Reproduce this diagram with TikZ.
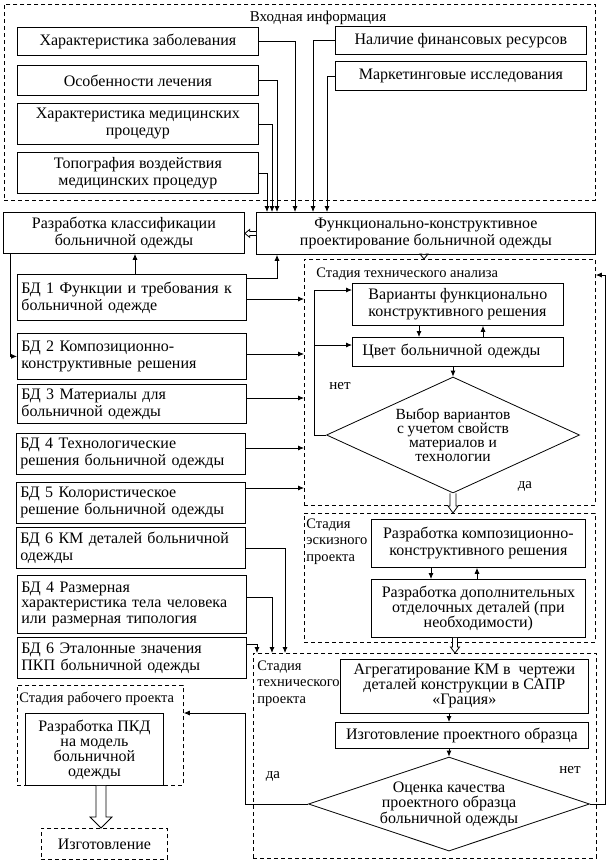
\documentclass[tikz,border=0pt]{standalone}
\usepackage{fontspec}
\setmainfont{Liberation Serif}
\usepackage{tikz}
\usetikzlibrary{arrows.meta, shapes.geometric, calc, positioning}
\tikzset{>={Latex[length=6pt,width=5pt]}}

\newcommand{\hollowdown}[5]{%
  \draw[fill=white] let \p1=(#1), \p2=(#2) in
    (\x1-#3,\y1) -- (\x1-#3,\y2+#5) -- (\x1-#4,\y2+#5) -- (\x1,\y2)
    -- (\x1+#4,\y2+#5) -- (\x1+#3,\y2+#5) -- (\x1+#3,\y1);}
\newcommand{\hollowleft}[5]{%
  \draw[fill=white] let \p1=(#1), \p2=(#2) in
    (\x1,\y1-#3) -- (\x2+#5,\y1-#3) -- (\x2+#5,\y1-#4) -- (\x2,\y1)
    -- (\x2+#5,\y1+#4) -- (\x2+#5,\y1+#3) -- (\x1,\y1+#3);}

\begin{document}
\begin{tikzpicture}[x=1pt, y=-1pt, line width=0.8pt,
  sz/.style 2 args={minimum width=#1pt, minimum height=#2pt, anchor=north west},
  box/.style={draw, align=center, inner sep=2pt, font=\fontsize{16pt}{17pt}\selectfont},
  bd/.style={draw, anchor=north west, text width=221pt, inner xsep=4pt, inner ysep=2pt,
    align=left, font=\fontsize{16pt}{17pt}\selectfont},
  stage/.style={draw, dash pattern=on 4pt off 3pt, inner sep=0pt},
  lbl/.style={inner sep=0pt, align=left, font=\fontsize{14.5pt}{16.5pt}\selectfont},
  dia/.style={draw, diamond, inner sep=0pt, align=center},
  yn/.style={inner sep=0pt, font=\fontsize{15pt}{17pt}\selectfont}]

\useasboundingbox (0,0) rectangle (607,863);

\node[stage, sz={591}{196}] (IN) at (4,4) {};
\node[lbl, font=\fontsize{15pt}{17pt}\selectfont] (INt) at (318,18) {Входная информация};
\node[box, sz={241}{28}] (A1) at (17,27) {Характеристика заболевания};
\node[box, sz={241}{30}] (A2) at (17,65) {Особенности лечения};
\node[box, sz={241}{41}] (A3) at (17,103) {Характеристика медицинских\\процедур};
\node[box, sz={241}{41}] (A4) at (17,152) {Топография воздействия\\медицинских процедур};
\node[box, sz={251}{28}] (B1) at (335,26) {Наличие финансовых ресурсов};
\node[box, sz={251}{29}] (B2) at (335,61) {Маркетинговые исследования};

\node[box, sz={241}{41}] (K) at (3,212) {Разработка классификации\\больничной одежды};
\node[box, sz={339}{42}] (F) at (256,212) {Функционально-конструктивное\\проектирование больничной одежды};

\node[bd, minimum height=46pt] (BD1) at (17,274) {БД 1 Функции и требования к\\больничной одежде};
\node[bd, minimum height=46pt] (BD2) at (17,333) {БД 2 Композиционно-\\конструктивные решения};
\node[bd, minimum height=39pt] (BD3) at (17,384) {БД 3 Материалы для\\больничной одежды};
\node[bd, minimum height=41pt] (BD4) at (16,433) {БД 4 Технологические\\решения больничной одежды};
\node[bd, minimum height=41pt] (BD5) at (16,482) {БД 5 Колористическое\\решение больничной одежды};
\node[bd, minimum height=41pt] (BD6) at (16,527) {БД 6 КМ деталей больничной\\одежды};
\node[bd, minimum height=58pt, font=\fontsize{16pt}{15.5pt}\selectfont] (BD7) at (17,575) {БД 4 Размерная\\характеристика тела человека\\или размерная типология};
\node[bd, minimum height=41pt] (BD8) at (17,637) {БД 6 Эталонные значения\\ПКП больничной одежды};

\node[stage, sz={291}{246}] (TA) at (304,259) {};
\node[lbl, anchor=west] (TAt) at (316,274) {Стадия технического анализа};
\node[box, sz={211}{42}, align=left] (V) at (352,283) {Варианты функционально\\конструктивного решения};
\node[box, sz={211}{29}, text width=191pt, inner xsep=10pt, align=left] (C) at (352,337) {Цвет больничной одежды};
\node[dia, minimum width=253pt, minimum height=116pt, shape aspect=2.18,
  font=\fontsize{15.5pt}{14.2pt}\selectfont] (D1) at (453,435) {Выбор вариантов\\с учетом свойств\\материалов и\\технологии};
\node[yn] (no1) at (340,386) {нет};
\node[yn] (yes1) at (525,486) {да};

\node[stage, sz={291}{129}] (SK) at (304,513) {};
\node[lbl, anchor=north west] (SKt) at (306,518) {Стадия\\эскизного\\проекта};
\node[box, sz={214}{48}] (SK1) at (371,519) {Разработка композиционно-\\конструктивного решения};
\node[box, sz={214}{58}, font=\fontsize{16pt}{15pt}\selectfont] (SK2) at (371,579) {Разработка дополнительных\\отделочных деталей (при\\необходимости)};

\node[stage, sz={343}{205}] (TP) at (253,653) {};
\node[lbl, anchor=north west] (TPt) at (257,660) {Стадия\\технического\\проекта};
\node[box, sz={248}{54}, font=\fontsize{16pt}{15pt}\selectfont] (TP1) at (340,659) {Агрегатирование КМ в~ чертежи\\деталей конструкции в САПР\\«Грация»};
\node[box, sz={253}{26}] (TP2) at (335,722) {Изготовление проектного образца};
\node[dia, minimum width=281pt, minimum height=94pt, shape aspect=3,
  font=\fontsize{16pt}{14.5pt}\selectfont] (D2) at (449,804) {Оценка качества\\проектного образца\\больничной одежды};
\node[yn] (yes2) at (273,776) {да};
\node[yn] (no2) at (570,770) {нет};

\node[stage, sz={166}{100}] (RP) at (17,685) {};
\node[lbl, anchor=west] (RPt) at (19,699) {Стадия рабочего проекта};
\node[box, sz={138}{72}, font=\fontsize{16pt}{15pt}\selectfont] (RP1) at (25,713) {Разработка ПКД\\на модель\\больничной\\одежды};
\node[stage, sz={126}{31}, font=\fontsize{16pt}{17pt}\selectfont] (MK) at (41,828) {Изготовление};

\coordinate (x1) at (295,0); \coordinate (x2) at (277,0); \coordinate (x3) at (272,0);
\coordinate (x4) at (267,0); \coordinate (x5) at (313,0); \coordinate (x6) at (327,0);
\draw[->] (A1.east) -| (F.north -| x1);
\draw[->] (A2.east) -| (F.north -| x2);
\draw[->] (A3.east) -| (F.north -| x3);
\draw[->] (A4.east) -| (F.north -| x4);
\draw[->] (B1.west) -| (F.north -| x5);
\draw[->] (B2.west) -| (F.north -| x6);

\hollowleft{F.west}{K.east}{2pt}{4pt}{5pt}
\coordinate (x7) at (10,0); \coordinate (x8) at (135,0);
\draw[->] (K.south -| x7) |- (BD2.west);
\draw[->] (BD1.north -| x8) -- (K.south -| x8);
\draw[->] ([yshift=-4pt]BD1.north east) -| (F.south -| x2);

\coordinate (pa1) at (304,299); \coordinate (pa2) at (304,354); \coordinate (pa3) at (304,398);
\coordinate (pa4) at (304,448); \coordinate (pa5) at (304,488);
\draw[->] (BD1.east |- pa1) -- (pa1);
\draw[->] (BD2.east |- pa2) -- (pa2);
\draw[->] (BD3.east |- pa3) -- (pa3);
\draw[->] (BD4.east |- pa4) -- (pa4);
\draw[->] (BD5.east |- pa5) -- (pa5);

\coordinate (pb1) at (285,653); \coordinate (pb2) at (272,653); \coordinate (pb3) at (257,653);
\draw[->] (BD6.east) -| (pb1);
\draw[->] ([yshift=7pt]BD7.east) -| (pb2);
\draw[->] ([yshift=14pt]BD8.east) -| (pb3);

\coordinate (h1) at (424,0);
\hollowdown{F.south -| h1}{TA.north -| h1}{2pt}{4pt}{5pt}
\coordinate (x9) at (419,0); \coordinate (x10) at (483,0);
\draw[->] (V.south -| x9) -- (C.north -| x9);
\draw[->] (C.north -| x10) -- (V.south -| x10);
\draw[->] (C.south -| D1.north) -- (D1.north);
\coordinate (lp) at (314,0); \coordinate (pv) at (352,290); \coordinate (pc) at (352,345);
\draw[->] (D1.west) -| (lp |- pv) -- (pv);
\draw[->] (lp |- pc) -- (pc);
\hollowdown{D1.south}{SK.north -| D1.south}{3pt}{5pt}{7pt}

\coordinate (x11) at (431,0); \coordinate (x12) at (477,0);
\draw[->] (SK1.south -| x11) -- (SK2.north -| x11);
\draw[->] (SK2.north -| x12) -- (SK1.south -| x12);
\coordinate (h2) at (455,0);
\hollowdown{SK2.south -| h2}{TP.north -| h2}{2.5pt}{4.5pt}{6pt}

\draw[->] (TP1.south -| D2.north) -- (TP2.north -| D2.north);
\draw[->] (TP2.south -| D2.north) -- (D2.north);
\coordinate (yb) at (245,713); \coordinate (nb) at (605,275);
\draw[->] (D2.west) -| (yb) -- (yb -| RP.east);
\draw[->] (D2.east) -| (nb) -- (nb -| TA.east);

\coordinate (h3) at (101,0);
\hollowdown{RP.south -| h3}{MK.north -| h3}{5pt}{11pt}{11pt}

\end{tikzpicture}
\end{document}
